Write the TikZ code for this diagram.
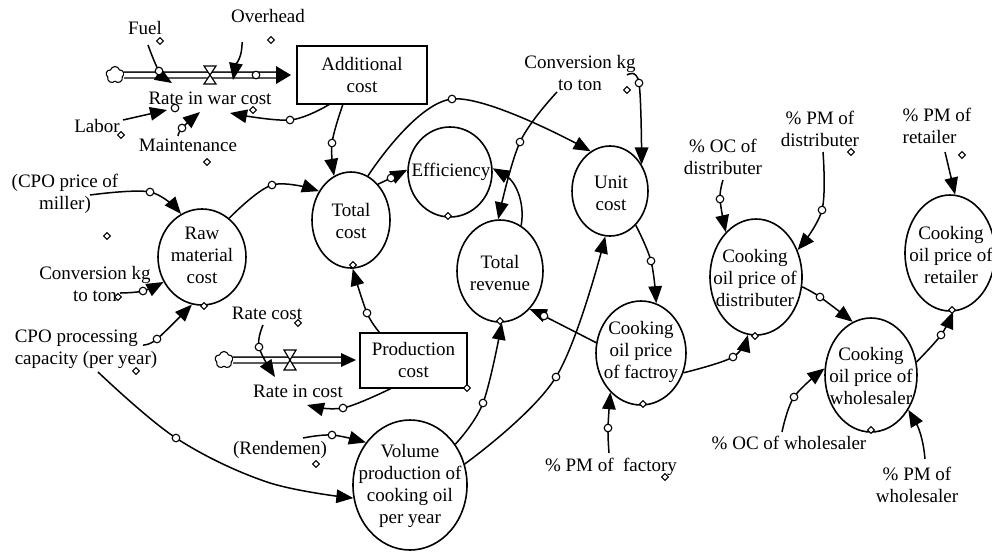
\documentclass[tikz,border=0pt]{standalone}
\usepackage{fontspec}
\setmainfont{Liberation Serif}
\usetikzlibrary{arrows.meta,shapes.geometric,shapes.symbols,calc}
\begin{document}
\begin{tikzpicture}[x=1pt,y=-1pt,
  every node/.style={font=\fontsize{19}{22}\selectfont},
  txt/.style={inner sep=1pt, align=center},
  var/.style={draw, ellipse, line width=1.6pt, inner sep=0pt},
  stock/.style={draw, rectangle, line width=2pt, inner sep=0pt, align=center},
  link/.style={line width=1.5pt, -{Triangle[length=17pt,width=13.5pt]}},
  pipe/.style={line width=1.4pt, double distance=4.5pt},
  src/.style={draw, cloud, cloud puffs=5, aspect=1.1, line width=1.1pt,
    minimum width=18pt, minimum height=17pt, inner sep=0pt},
  valvestyle/.style={draw, fill=white, line width=1.2pt},
  hnd/.style={draw, fill=white, line width=1.1pt},
  dmd/.style={draw, fill=white, line width=1pt}
]
\fill[white] (0,0) rectangle (992,555);
\useasboundingbox (0,0) rectangle (992,555);

% ---------- stocks ----------
\node[stock, minimum width=130, minimum height=58] (addc) at (362,75) {Additional\\cost};
\node[stock, minimum width=107, minimum height=55] (prodc) at (413.5,360) {Production\\cost};

% ---------- auxiliary variables (ellipses) ----------
\node[var, minimum width=88,  minimum height=96]  (raw) at (202,257) {};
\node[var, minimum width=78,  minimum height=96]  (tc)  at (351,220) {};
\node[var, minimum width=84,  minimum height=90]  (eff) at (450,172) {};
\node[var, minimum width=86,  minimum height=102] (tr)  at (500,271) {};
\node[var, minimum width=76,  minimum height=90]  (uc)  at (610,191) {};
\node[var, minimum width=114, minimum height=130] (vol) at (410,485) {};
\node[var, minimum width=90,  minimum height=104] (fac) at (641,353) {};
\node[var, minimum width=92,  minimum height=116] (dis) at (756,277) {};
\node[var, minimum width=92,  minimum height=114] (whs) at (871,375) {};
\node[var, minimum width=90,  minimum height=116] (ret) at (950,253) {};

\node[txt] (rawT) at (202,255) {Raw\\material\\cost};
\node[txt] (tcT)  at (351,221) {Total\\cost};
\node[txt] (effT) at (451,172) {Efficiency};
\node[txt] (trT)  at (500,273) {Total\\revenue};
\node[txt] (ucT)  at (611,193) {Unit\\cost};
\node[txt] (volT) at (410,486) {Volume\\production of\\cooking oil\\per year};
\node[txt] (facT) at (641,352) {Cooking\\oil price\\of factroy};
\node[txt] (disT) at (755,278) {Cooking\\oil price of\\distributer};
\node[txt] (whsT) at (871,376) {Cooking\\oil price of\\wholesaler};
\node[txt] (retT) at (951,255) {Cooking\\oil price of\\retailer};

% ---------- constants and rate labels ----------
\node[txt] (fuel)  at (145,28)  {Fuel};
\node[txt] (ovh)   at (268,16)  {Overhead};
\node[txt] (rwc)   at (210,98)  {Rate in war cost};
\node[txt] (labor) at (97,126)  {Labor};
\node[txt] (maint) at (188,145) {Maintenance};
\node[txt] (cpo)   at (65,194)  {(CPO price of\\miller)};
\node[txt] (ckt1)  at (95,284)  {Conversion kg\\to ton};
\node[txt, align=left] (cap) at (86,349) {CPO processing\\capacity (per year)};
\node[txt] (ratec) at (267,313) {Rate cost};
\node[txt] (ric)   at (298,391) {Rate in cost};
\node[txt] (rend)  at (280,450) {(Rendemen)};
\node[txt] (ckt2)  at (580,73)  {Conversion kg\\to ton};
\node[txt] (pmf)   at (611,467) {\% PM of\ \ factory};
\node[txt] (ocd)   at (723,157) {\% OC of\\distributer};
\node[txt] (pmd)   at (820,129) {\% PM of\\distributer};
\node[txt, align=left] (pmr) at (937,126) {\% PM of\\retailer};
\node[txt] (ocw)   at (789,443) {\% OC of wholesaler};
\node[txt] (pmw)   at (917,485) {\% PM of\\wholesaler};

% ---------- link handles ----------
\coordinate (hFuel)    at (159,71);
\coordinate (hPipe)    at (256,75);
\coordinate (hLabor)   at (175,108);
\coordinate (hMaint)   at (182,128);
\coordinate (hAddRwc)  at (290,120);
\coordinate (hAddTc)   at (332,143);
\coordinate (hRawTc)   at (272,185);
\coordinate (hCpo)     at (150,192);
\coordinate (hCkt1)    at (143,291);
\coordinate (hCap)     at (157,339);
\coordinate (hCapVol)  at (176,438);
\coordinate (hTcEff)   at (391,178);
\coordinate (hTcUc)    at (452,99);
\coordinate (hProdTc)  at (367,313);
\coordinate (hRate)    at (259,347);
\coordinate (hProdRic) at (343,408);
\coordinate (hRend)    at (332,435);
\coordinate (hVolTr)   at (483,403);
\coordinate (hVolUc)   at (556,377);
\coordinate (hCktTr)   at (520,142);
\coordinate (hCktUc)   at (639,83);
\coordinate (hUcFac)   at (651,261);
\coordinate (hFacTr)   at (544,316);
\coordinate (hPmf)     at (608,428);
\coordinate (hFacDis)  at (733,357);
\coordinate (hOcd)     at (720,199);
\coordinate (hPmd)     at (822,210);
\coordinate (hDisWhs)  at (820,297);
\coordinate (hOcw)     at (794,397);
\coordinate (hWhsRet)  at (941,335);

% ---------- flows ----------
\node[src] (src1) at (115,75) {};
\draw[pipe] (src1) -- ($(addc.west)+(-19,0)$);
\fill ($(addc.west)+(-5,0)$) -- ++(-15,-9) -- ++(0,18) -- cycle;
\draw[valvestyle] (210,75) ++(-6,-9) -- ++(12,0) -- ++(-12,18) -- ++(12,0) -- cycle;

\node[src] (src2) at (224,360) {};
\draw[pipe] (src2) -- ($(prodc.west)+(-17,0)$);
\fill ($(prodc.west)+(-3,0)$) -- ++(-15,-7) -- ++(0,14) -- cycle;
\draw[valvestyle] (290,360) ++(-6,-10) -- ++(12,0) -- ++(-12,20) -- ++(12,0) -- cycle;

% ---------- links ----------
\draw[link] plot[smooth,tension=0.6] coordinates {($(fuel)+(3,17)$) (hFuel) ($(rwc)+(-38,-15)$)};
\draw[link] ($(ovh)+(-26,26)$) to[out=-88,in=80] ($(rwc)+(23,-18)$);
\draw[link] ($(labor)+(26,-6)$) -- ($(rwc)+(-43,12)$);
\draw[link] plot[smooth,tension=0.6] coordinates {($(maint)+(-10,-9)$) (hMaint) ($(rwc)+(-10,14)$)};
\draw[link] plot[smooth,tension=0.6] coordinates {($(addc)+(-32,29)$) (hAddRwc) ($(rwc)+(20,15)$)};
\draw[link] plot[smooth,tension=0.6] coordinates {($(addc)+(-19,29)$) (hAddTc) (tc.111)};
\draw[link] plot[smooth,tension=0.6] coordinates {(raw.55) (hRawTc) (tc.138)};
\draw[link] plot[smooth,tension=0.6] coordinates {($(cpo)+(25,1)$) (hCpo) (raw.116)};
\draw[link] plot[smooth,tension=0.6] coordinates {($(ckt1)+(25,9)$) (hCkt1) (raw.213)};
\draw[link] plot[smooth,tension=0.6] coordinates {($(cap)+(57,-4)$) (hCap) (raw.258)};
\draw[link] plot[smooth,tension=0.6] coordinates {($(cap)+(12,23)$) (hCapVol) (267,482) (vol.193)};
\draw[link] plot[smooth,tension=0.6] coordinates {(tc.53) (hTcEff) (eff.177)};
\draw[link] plot[smooth,tension=0.6] coordinates {(tc.69) (hTcUc) (uc.116)};
\draw[link] plot[smooth,tension=0.6] coordinates {($(prodc)+(-33.5,-27)$) (hProdTc) (tc.272)};
\draw[link] plot[smooth,tension=0.6] coordinates {($(ratec)+(-4,12)$) (hRate) ($(ric)+(-23,-14)$)};
\draw[link] plot[smooth,tension=0.6] coordinates {($(prodc)+(-21.5,28)$) (hProdRic) ($(ric)+(9,14)$)};
\draw[link] plot[smooth,tension=0.6] coordinates {($(rend)+(23,-12)$) (hRend) (vol.136)};
\draw[link] plot[smooth,tension=0.6] coordinates {(vol.42) (hVolTr) (tr.272)};
\draw[link] plot[smooth,tension=0.6] coordinates {(vol.21) (hVolUc) (uc.264)};
\draw[link] plot[smooth,tension=0.6] coordinates {($(ckt2)+(-23,19)$) (hCktTr) (tr.92)};
\draw[link] plot[smooth,tension=0.6] coordinates {($(ckt2)+(47,2)$) (hCktUc) (uc.40)};
\draw[link] (tr.65) to[out=80,in=-30] (eff.5);
\draw[link] plot[smooth,tension=0.6] coordinates {(uc.307) (hUcFac) (fac.73)};
\draw[link] plot[smooth,tension=0.6] coordinates {(fac.167) (hFacTr) (tr.308)};
\draw[link] plot[smooth,tension=0.6] coordinates {($(pmf)+(-2,-14)$) (hPmf) (fac.232)};
\draw[link] plot[smooth,tension=0.6] coordinates {(fac.335) (hFacDis) (dis.262)};
\draw[link] plot[smooth,tension=0.6] coordinates {($(ocd)+(0,23)$) (hOcd) (dis.124)};
\draw[link] plot[smooth,tension=0.6] coordinates {($(pmd)+(3,23)$) (hPmd) (dis.33)};
\draw[link] plot[smooth,tension=0.6] coordinates {(dis.348) (hDisWhs) (whs.109)};
\draw[link] plot[smooth,tension=0.6] coordinates {($(ocw)+(-7,-11)$) (hOcw) (whs.172)};
\draw[link] ($(pmw)+(8,-26)$) to[out=95,in=-60] (whs.317);
\draw[link] plot[smooth,tension=0.6] coordinates {(whs.16) (hWhsRet) (ret.273)};
\draw[link] ($(pmr)+(8,26)$) -- (ret.85);

% ---------- handle circles ----------
\foreach \h in {hFuel,hPipe,hLabor,hMaint,hAddRwc,hAddTc,hRawTc,hCpo,hCkt1,hCap,
  hCapVol,hTcEff,hTcUc,hProdTc,hRate,hProdRic,hRend,hVolTr,hVolUc,hCktTr,hCktUc,
  hUcFac,hFacTr,hPmf,hFacDis,hOcd,hPmd,hDisWhs,hOcw,hWhsRet}
  \draw[hnd] (\h) circle[radius=3.8pt];

% ---------- small diamond markers ----------
\foreach \p in {(160,41),(271,40),(121,135),(207,162),(253,110),(107,236),(118,297),
  (204,306),(136,371),(298,323),(467,388),(316,464),(448,216),(500,321),(353,265),
  (627,90),(643,404),(665,477),(755,336),(851,152),(871,430),(952,310),(962,155)}
  \draw[dmd] \p +(0,-3.4) -- +(3.4,0) -- +(0,3.4) -- +(-3.4,0) -- cycle;
\end{tikzpicture}
\end{document}
